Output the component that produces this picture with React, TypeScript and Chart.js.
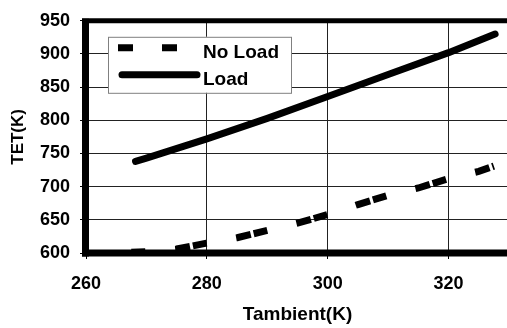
import React, { useEffect, useRef } from 'react';
import { Chart, registerables } from 'chart.js';

Chart.register(...registerables);

// ---- Data ----
const noLoadT = [267.5, 270, 275, 280, 285, 290, 295, 300, 305, 310, 315, 320, 325, 327.5];
const noLoadTET = [601, 602, 606, 615, 623, 634, 645, 658, 673, 687, 698, 712, 723, 731];
const loadT = [268.2, 270, 280, 290, 300, 310, 320, 327.7];
const loadTET = [738, 743, 772, 803, 836, 869, 902, 930];
const xTickValues = [260, 280, 300, 320];
const seriesNames = ['No Load', 'Load'];
const xTitle = 'Tambient(K)';
const yTitle = 'TET(K)';

const FONT = "'Liberation Sans', Arial, sans-serif";

const framePlugin = {
  id: 'frameAndLegend',
  afterDraw(chart: any) {
    const ctx = chart.ctx as CanvasRenderingContext2D;
    const { left, right, top, bottom } = chart.chartArea;
    ctx.save();
    ctx.setLineDash([]);
    ctx.lineCap = 'butt';
    ctx.strokeStyle = '#000';
    // top border
    ctx.lineWidth = 5;
    ctx.beginPath();
    ctx.moveTo(left - 4, top);
    ctx.lineTo(right, top);
    ctx.stroke();
    // left axis
    ctx.lineWidth = 7;
    ctx.beginPath();
    ctx.moveTo(left - 0.5, top - 2);
    ctx.lineTo(left - 0.5, bottom + 3.5);
    ctx.stroke();
    // bottom axis
    ctx.beginPath();
    ctx.moveTo(left - 4, bottom);
    ctx.lineTo(right, bottom);
    ctx.stroke();

    // legend box
    const bx = left + 22;
    const by = top + 16;
    const bw = 183;
    const bh = 56;
    ctx.fillStyle = '#fff';
    ctx.fillRect(bx, by, bw, bh);
    ctx.strokeStyle = '#808080';
    ctx.lineWidth = 1;
    ctx.strokeRect(bx + 0.5, by + 0.5, bw, bh);

    // No Load sample (dashed)
    ctx.strokeStyle = '#000';
    ctx.lineWidth = 7;
    ctx.lineCap = 'butt';
    ctx.setLineDash([15, 29]);
    ctx.beginPath();
    ctx.moveTo(bx + 10, by + 11);
    ctx.lineTo(bx + 92, by + 11);
    ctx.stroke();

    // Load sample (solid)
    ctx.setLineDash([]);
    ctx.lineCap = 'round';
    ctx.beginPath();
    ctx.moveTo(bx + 14, by + 38);
    ctx.lineTo(bx + 89, by + 38);
    ctx.stroke();

    ctx.fillStyle = '#000';
    ctx.font = `bold 19px ${FONT}`;
    ctx.textAlign = 'left';
    ctx.textBaseline = 'alphabetic';
    ctx.fillText(seriesNames[0], bx + 95, by + 21.5);
    ctx.fillText(seriesNames[1], bx + 95, by + 48);
    ctx.restore();
  },
};

export default function App() {
  const canvasRef = useRef<HTMLCanvasElement | null>(null);

  useEffect(() => {
    const canvas = canvasRef.current;
    if (!canvas) return;
    const chart = new Chart(canvas, {
      type: 'line',
      data: {
        datasets: [
          {
            label: seriesNames[0],
            data: noLoadT.map((x, i) => ({ x, y: noLoadTET[i] })),
            borderColor: '#000',
            borderWidth: 7,
            borderDash: [15, 3, 14, 30],
            borderDashOffset: 18,
            borderCapStyle: 'butt',
            pointRadius: 0,
            tension: 0,
            fill: false,
          },
          {
            label: seriesNames[1],
            data: loadT.map((x, i) => ({ x, y: loadTET[i] })),
            borderColor: '#000',
            borderWidth: 7,
            borderCapStyle: 'round',
            borderJoinStyle: 'round',
            pointRadius: 0,
            tension: 0,
            fill: false,
          },
        ],
      },
      options: {
        animation: false,
        responsive: false,
        devicePixelRatio: 1,
        layout: { padding: { top: 14, left: 0, right: 0, bottom: 0 } },
        plugins: {
          legend: { display: false },
          tooltip: { enabled: false },
        },
        scales: {
          x: {
            type: 'linear',
            min: 260,
            max: 330,
            afterBuildTicks: (scale: any) => {
              scale.ticks = xTickValues.map((v) => ({ value: v }));
            },
            afterFit: (scale: any) => {
              scale.height = 75;
            },
            grid: {
              color: '#222',
              lineWidth: 1,
              tickLength: 6,
              tickColor: '#000',
            },
            border: { display: false },
            ticks: {
              color: '#000',
              font: { family: FONT, size: 18, weight: 'bold' },
              padding: 14,
              maxRotation: 0,
            },
            title: {
              display: true,
              text: xTitle,
              color: '#000',
              font: { family: FONT, size: 19, weight: 'bold' },
              padding: { top: 0, bottom: 2 },
            },
          },
          y: {
            type: 'linear',
            min: 600,
            max: 950,
            ticks: {
              stepSize: 50,
              color: '#000',
              font: { family: FONT, size: 18, weight: 'bold' },
              padding: 10,
            },
            afterFit: (scale: any) => {
              scale.width = 86;
            },
            grid: {
              color: '#222',
              lineWidth: 1,
              tickLength: 6,
              tickColor: '#000',
            },
            border: { display: false },
            title: {
              display: true,
              text: yTitle,
              color: '#000',
              font: { family: FONT, size: 17, weight: 'bold' },
              padding: { top: 8, bottom: 0 },
            },
          },
        },
      },
      plugins: [framePlugin],
    } as any);
    return () => chart.destroy();
  }, []);

  return (
    <div
      style={{
        position: 'absolute',
        left: 0,
        top: 0,
        width: 507,
        height: 328,
        overflow: 'hidden',
        background: '#fff',
      }}
    >
      <canvas ref={canvasRef} width={509} height={328} style={{ display: 'block' }} />
    </div>
  );
}
